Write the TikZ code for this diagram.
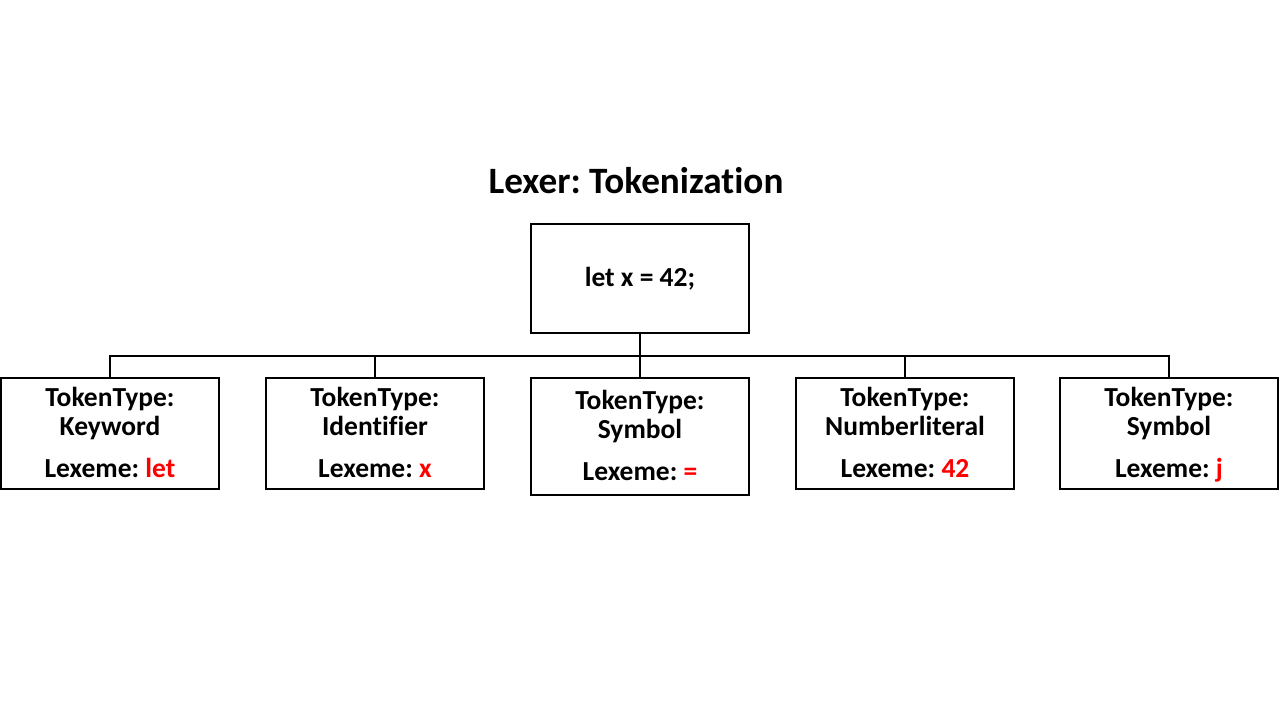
\documentclass[tikz,border=0pt]{standalone}
\usepackage{fontspec}
\setmainfont{Carlito}[Ligatures=CommonOff]
\definecolor{lexred}{RGB}{255,0,0}
\newcommand{\topstrut}{\rule{0pt}{25pt}}
\begin{document}
\frenchspacing
\begin{tikzpicture}[x=1pt,y=-1pt,
  box/.style={draw=black,line width=1.6pt,minimum width=218pt,align=center,inner sep=0pt,
    font=\bfseries\fontsize{27.5}{29}\selectfont},
  tokbox/.style={box,minimum height=111pt},
  link/.style={draw=black,line width=1.6pt}]
\useasboundingbox (0,0) rectangle (1280,720);
\node[font=\bfseries\fontsize{37.2}{42}\selectfont] (title) at (636,181) {Lexer: Tokenization};
\node[box,minimum height=109pt] (top) at (640,278.5) {let x = 42;};
\coordinate (bus) at (640,356);
\node[tokbox] (b1) at (110,433.5) {\topstrut TokenType:\\Keyword\\[13pt]Lexeme: \textcolor{lexred}{let}\strut};
\node[tokbox] (b2) at (375,433.5) {\topstrut TokenType:\\Identifier\\[13pt]Lexeme: \textcolor{lexred}{x}\strut};
\node[box,minimum height=117pt] (b3) at (640,436.5) {\topstrut TokenType:\\Symbol\\[13pt]Lexeme: \textcolor{lexred}{=}\strut};
\node[tokbox] (b4) at (905,433.5) {\topstrut TokenType:\\Numberliteral\\[13pt]Lexeme: \textcolor{lexred}{42}\strut};
\node[tokbox] (b5) at (1169,433.5) {\topstrut TokenType:\\Symbol\\[13pt]Lexeme: \textcolor{lexred}{j}\strut};
\draw[link] (top.south) -- (b3.north);
\draw[link] (b1.north) -- (b1.north |- bus) -- (b5.north |- bus) -- (b5.north);
\draw[link] (b2.north) -- (b2.north |- bus);
\draw[link] (b4.north) -- (b4.north |- bus);
\end{tikzpicture}
\end{document}
